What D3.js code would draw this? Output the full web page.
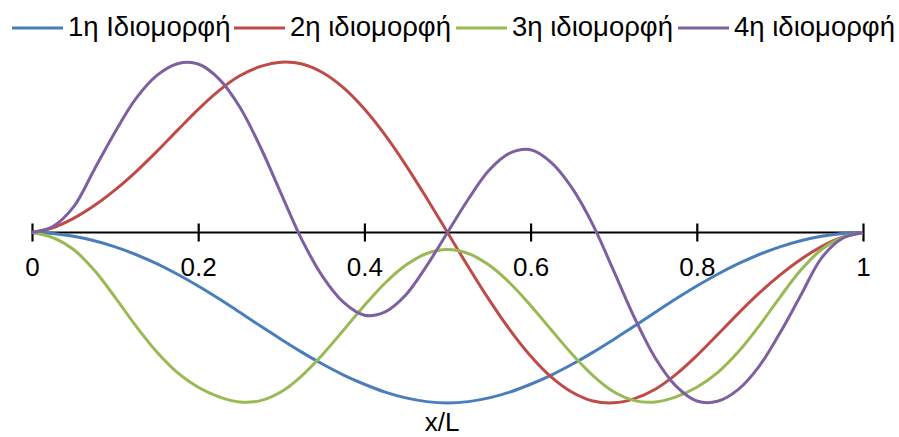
<!DOCTYPE html>
<html>
<head>
<meta charset="utf-8">
<script src="https://cdn.jsdelivr.net/npm/d3@7"></script>
<style>
  html, body { margin: 0; padding: 0; background: #ffffff; }
  svg { display: block; }
  text { font-family: "Liberation Sans", Arial, sans-serif; fill: #000; }
</style>
</head>
<body>
<svg id="chart" width="899" height="437"></svg>
<script>
// Normalised position along the beam
const xL = [0, 0.025, 0.05, 0.075, 0.1, 0.125, 0.15, 0.175, 0.2, 0.225,
            0.25, 0.275, 0.3, 0.325, 0.35, 0.375, 0.4, 0.425, 0.45, 0.475,
            0.5, 0.525, 0.55, 0.575, 0.6, 0.625, 0.65, 0.675, 0.7, 0.725,
            0.75, 0.775, 0.8, 0.825, 0.85, 0.875, 0.9, 0.925, 0.95, 0.975, 1];

// Mode shapes (normalised amplitude)
const mode1 = [0, -0.006, -0.022, -0.048, -0.084, -0.129, -0.183, -0.245, -0.314, -0.389,
               -0.468, -0.549, -0.627, -0.703, -0.773, -0.836, -0.890, -0.936, -0.970, -0.992,
               -1.0, -0.992, -0.970, -0.936, -0.890, -0.836, -0.773, -0.703, -0.627, -0.549,
               -0.468, -0.389, -0.314, -0.245, -0.183, -0.129, -0.084, -0.048, -0.022, -0.006, 0];
const mode2 = [0, 0.028, 0.083, 0.158, 0.25, 0.356, 0.474, 0.599, 0.722, 0.832,
               0.919, 0.974, 0.999, 0.988, 0.937, 0.848, 0.724, 0.571, 0.394, 0.201,
               0, -0.201, -0.394, -0.571, -0.724, -0.848, -0.937, -0.988, -0.999, -0.974,
               -0.919, -0.832, -0.722, -0.599, -0.474, -0.356, -0.25, -0.158, -0.083, -0.028, 0];
const mode3 = [0, -0.03, -0.10, -0.222, -0.38, -0.548, -0.70, -0.822, -0.908, -0.964,
               -0.994, -0.986, -0.934, -0.839, -0.714, -0.572, -0.428, -0.296, -0.191, -0.123,
               -0.10, -0.123, -0.191, -0.296, -0.428, -0.572, -0.714, -0.839, -0.934, -0.986,
               -0.994, -0.964, -0.908, -0.822, -0.70, -0.548, -0.38, -0.222, -0.10, -0.03, 0];
const mode4 = [0, 0.035, 0.15, 0.37, 0.59, 0.785, 0.92, 0.99, 0.988, 0.901,
               0.736, 0.50, 0.225, -0.045, -0.26, -0.41, -0.485, -0.465, -0.365, -0.195,
               0, 0.195, 0.365, 0.465, 0.485, 0.41, 0.26, 0.045, -0.225, -0.50,
               -0.736, -0.901, -0.988, -0.99, -0.92, -0.785, -0.59, -0.37, -0.15, -0.035, 0];

const seriesNames = ["1η Ιδιομορφή", "2η ιδιομορφή", "3η ιδιομορφή", "4η ιδιομορφή"];
const seriesColors = ["#4a7ebb", "#be4b48", "#98b954", "#7d60a0"];
const xTicks = [0, 0.2, 0.4, 0.6, 0.8, 1];
const xTitle = "x/L";

const series = [mode1, mode2, mode3, mode4].map((vals, i) => ({
  name: seriesNames[i],
  color: seriesColors[i],
  points: xL.map((x, j) => ({ x, y: vals[j] }))
}));

const svg = d3.select("#chart");

const x = d3.scaleLinear().domain([0, 1]).range([32, 863]);
const y = d3.scaleLinear().domain([-1, 1]).range([403, 62]);

// Horizontal axis through zero
const axis = d3.axisBottom(x)
  .tickValues(xTicks)
  .tickFormat(d => d3.format("")(d))
  .tickSize(0)
  .tickPadding(0);

const axisG = svg.append("g")
  .attr("transform", `translate(0,${y(0)})`)
  .call(axis);
axisG.select(".domain")
  .attr("stroke", "#000")
  .attr("stroke-width", 2.2)
  .attr("d", `M${x(0)},0H${x(1)}`);
axisG.selectAll(".tick line").remove();
axisG.selectAll(".tick").append("line")
  .attr("y1", -9).attr("y2", 9)
  .attr("stroke", "#000").attr("stroke-width", 2.2);
axisG.selectAll(".tick text")
  .attr("y", 43)
  .attr("dy", null)
  .attr("font-size", 26)
  .attr("font-family", "Liberation Sans, Arial, sans-serif")
  .attr("fill", "#000");

// Curves
const line = d3.line()
  .x(d => x(d.x))
  .y(d => y(d.y))
  .curve(d3.curveCatmullRom.alpha(0.5));

svg.append("g").selectAll("path")
  .data(series)
  .join("path")
  .attr("fill", "none")
  .attr("stroke", d => d.color)
  .attr("stroke-width", 3)
  .attr("stroke-linejoin", "round")
  .attr("d", d => line(d.points));

// Axis title
svg.append("text")
  .attr("x", 442)
  .attr("y", 431)
  .attr("text-anchor", "middle")
  .attr("font-size", 26)
  .text(xTitle);

// Legend across the top
const legend = svg.append("g");
const itemPitch = 222, swatch = 51, legendLeft = 12;
series.forEach((s, i) => {
  const g = legend.append("g").attr("transform", `translate(${legendLeft + i * itemPitch},0)`);
  g.append("line")
    .attr("x1", 0).attr("x2", swatch)
    .attr("y1", 28).attr("y2", 28)
    .attr("stroke", s.color).attr("stroke-width", 3);
  g.append("text")
    .attr("x", swatch + 5)
    .attr("y", 36)
    .attr("font-size", 27.5)
    .text(s.name);
});
</script>
</body>
</html>
